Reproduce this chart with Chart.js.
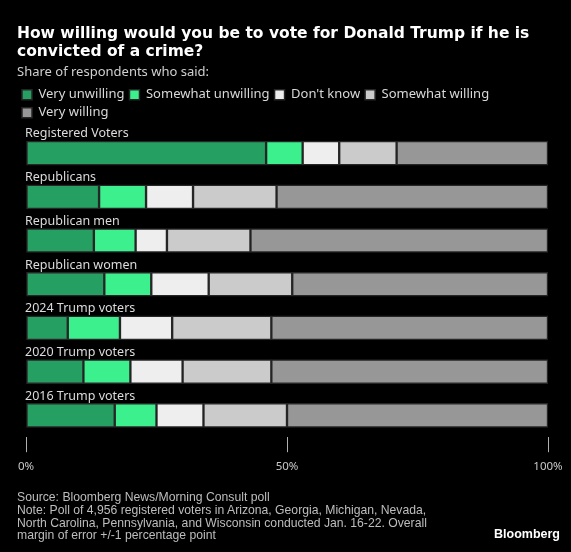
<!DOCTYPE html>
<html>
<head>
<meta charset="utf-8">
<script src="https://cdn.jsdelivr.net/npm/chart.js@4"></script>
<style>
  html, body { margin: 0; padding: 0; background: #000; }
  #wrap { position: relative; width: 571px; height: 552px; }
  canvas { position: absolute; left: 0; top: 0; }
  #foot { position: absolute; left: 17px; top: 491px; color: #bdbdbd; font: 12.2px "Liberation Sans", sans-serif; line-height: 12.8px; }
  #logo { position: absolute; right: 11px; top: 527px; color: #fff; font: bold 12.5px "Liberation Sans", sans-serif; }
</style>
</head>
<body>
<div id="wrap">
  <canvas id="c" width="571" height="552"></canvas>
  <div id="foot">Source: Bloomberg News/Morning Consult poll<br>Note: Poll of 4,956 registered voters in Arizona, Georgia, Michigan, Nevada,<br>North Carolina, Pennsylvania, and Wisconsin conducted Jan. 16-22. Overall<br>margin of error +/-1 percentage point</div>
  <div id="logo">Bloomberg</div>
</div>
<script>
const categories = ["Registered Voters", "Republicans", "Republican men", "Republican women", "2024 Trump voters", "2020 Trump voters", "2016 Trump voters"];
const seriesNames = ["Very unwilling", "Somewhat unwilling", "Don't know", "Somewhat willing", "Very willing"];
const veryUnwilling     = [46, 14, 13, 15, 8, 11, 17];
const somewhatUnwilling = [7, 9, 8, 9, 10, 9, 8];
const dontKnow          = [7, 9, 6, 11, 10, 10, 9];
const somewhatWilling   = [11, 16, 16, 16, 19, 17, 16];
const veryWilling       = [29, 52, 57, 49, 53, 53, 50];
const xTicks = [0, 50, 100];

const colors = ["#26a062", "#3cf08e", "#eeeeee", "#cbcbcb", "#979797"];
const values = [veryUnwilling, somewhatUnwilling, dontKnow, somewhatWilling, veryWilling];

const FONT = "'Noto Sans', 'Liberation Sans', sans-serif";

const catLabelPlugin = {
  id: 'catLabels',
  afterDatasetsDraw(chart) {
    const ctx = chart.ctx;
    const y = chart.scales.y;
    const left = chart.chartArea.left;
    ctx.save();
    ctx.fillStyle = '#dcdcdc';
    ctx.font = "12.5px " + FONT;
    ctx.textAlign = 'left';
    ctx.textBaseline = 'bottom';
    categories.forEach((c, i) => {
      const py = y.getPixelForValue(i);
      ctx.fillText(c, left - 1, py - 12 - 1);
    });
    ctx.restore();
  }
};

const legendSpace = {
  id: 'legendSpace',
  beforeInit(chart) {
    const orig = chart.legend.fit;
    chart.legend.fit = function () {
      orig.bind(chart.legend)();
      this.height += 2;
    };
  }
};

new Chart(document.getElementById('c'), {
  type: 'bar',
  data: {
    labels: categories,
    datasets: seriesNames.map((n, k) => ({
      label: n,
      data: values[k],
      backgroundColor: colors[k],
      borderColor: '#262626',
      borderWidth: 1.5,
      borderSkipped: false,
      barThickness: 24
    }))
  },
  options: {
    indexAxis: 'y',
    responsive: false,
    animation: false,
    layout: { padding: { top: 25, left: 17, right: 23, bottom: 70 } },
    scales: {
      x: {
        stacked: true,
        min: 0, max: 100,
        afterBuildTicks(s) { s.ticks = xTicks.map(v => ({ value: v })); },
        ticks: { color: '#c8c8c8', font: { size: 11.5, family: FONT }, padding: 8, callback: v => v + '%' },
        grid: { display: true, drawOnChartArea: false, drawTicks: true, tickLength: 15, color: '#b0b0b0', lineWidth: 1 },
        border: { display: false }
      },
      y: {
        stacked: true,
        ticks: { display: false },
        grid: { display: false },
        border: { display: false },
        afterFit(s) { s.width = 9; }
      }
    },
    plugins: {
      title: {
        display: true,
        text: ["How willing would you be to vote for Donald Trump if he is", "convicted of a crime?"],
        align: 'start',
        color: '#ffffff',
        font: { family: "'DejaVu Sans', sans-serif", size: 15.5, weight: 'bold', lineHeight: 1.15 },
        padding: { top: 0, bottom: 4 }
      },
      subtitle: {
        display: true,
        text: "Share of respondents who said:",
        align: 'start',
        color: '#d0d0d0',
        font: { family: FONT, size: 13 },
        padding: { top: 0, bottom: 3 }
      },
      legend: {
        display: true,
        position: 'top',
        align: 'start',
        labels: { color: '#d8d8d8', font: { family: FONT, size: 13 }, boxWidth: 10, boxHeight: 10, padding: 5, useBorderRadius: false }
      },
      tooltip: { enabled: false }
    }
  },
  plugins: [catLabelPlugin, legendSpace]
});
</script>
</body>
</html>
